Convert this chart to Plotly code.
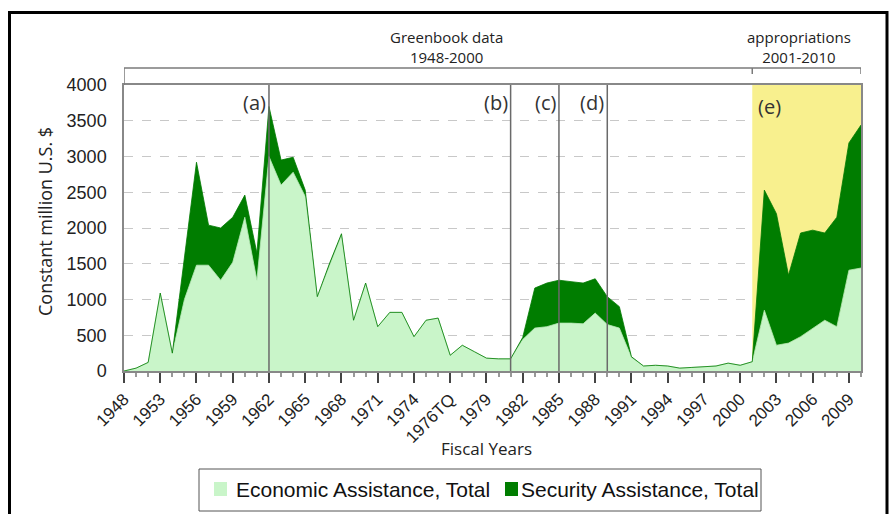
import plotly.graph_objects as go

# ---------------- data ----------------
categories = (["1948", "1951", "1952"]
              + [str(y) for y in range(1953, 1977)]
              + ["1976TQ"]
              + [str(y) for y in range(1977, 2011)])

economic = [0, 40, 120, 1090, 250, 1000, 1480, 1480, 1270, 1520,
            2150, 1270, 3000, 2600, 2780, 2440, 1040, 1480, 1900, 710,
            1230, 620, 820, 820, 480, 710, 740, 220, 360, 270,
            180, 170, 170, 440, 600, 620, 670, 670, 660, 810,
            650, 600, 190, 70, 80, 70, 40, 50, 60, 70,
            110, 80, 130, 850, 360, 390, 480, 600, 710, 620,
            1410, 1440]

security = [0, 0, 0, 0, 0, 600, 1440, 560, 730, 630,
            310, 380, 700, 350, 210, 90, 0, 20, 20, 0,
            0, 0, 0, 0, 0, 0, 0, 0, 0, 0,
            0, 0, 0, 30, 560, 610, 600, 580, 570, 480,
            390, 300, 10, 0, 0, 0, 0, 0, 0, 0,
            0, 0, 0, 1680, 1840, 950, 1450, 1370, 1220, 1530,
            1780, 2000]

series_names = ["Economic Assistance, Total", "Security Assistance, Total"]
series_colors = ["#c9f5c9", "#007d00"]

tick_labels = ["1948", "1953", "1956", "1959", "1962", "1965", "1968", "1971",
               "1974", "1976TQ", "1979", "1982", "1985", "1988", "1991", "1994",
               "1997", "2000", "2003", "2006", "2009"]

event_lines = {"(a)": "1962", "(b)": "1981", "(c)": "1985", "(d)": "1989"}
approp_start, approp_end = "2001", "2010"
period_labels = [("Greenbook data<br>1948-2000", 446), ("appropriations<br>2001-2010", 799)]

y_ticks = [0, 500, 1000, 1500, 2000, 2500, 3000, 3500, 4000]

# ---------------- helpers (pixel -> paper) ----------------
L, R, T, B = 124, 861, 85, 371
def px(x):
    return (x - L) / (R - L)
def py(y):
    return (B - y) / (B - T)

# ---------------- figure ----------------
xpos = list(range(len(categories)))
idx = {c: i for i, c in enumerate(categories)}

fig = go.Figure()
fig.add_trace(go.Scatter(
    x=xpos, y=economic, name=series_names[0],
    stackgroup="one", mode="lines",
    line=dict(color="#b5e8b5", width=0.8), fillcolor=series_colors[0]))
fig.add_trace(go.Scatter(
    x=xpos, y=security, name=series_names[1],
    stackgroup="one", mode="lines",
    line=dict(color="#007a00", width=0.8), fillcolor=series_colors[1]))

shapes = []
shapes.append(dict(type="rect", xref="x", yref="y",
                   x0=idx[approp_start], x1=idx[approp_end], y0=0, y1=4000,
                   fillcolor="#f8f08e", line=dict(width=0), layer="between"))
for lab, yr in event_lines.items():
    shapes.append(dict(type="line", xref="x", yref="y",
                       x0=idx[yr], x1=idx[yr], y0=0, y1=4000,
                       line=dict(color="#6a6a6a", width=1.5), layer="above"))
# top bracket
by = py(68)
bc = dict(color="#7a7a7a", width=1.5)
shapes.append(dict(type="line", xref="x", yref="paper", x0=0, x1=idx[approp_end],
                   y0=by, y1=by, line=bc))
shapes.append(dict(type="line", xref="x", yref="paper", x0=0, x1=0,
                   y0=by, y1=1.0, line=bc))
for xv in (idx[approp_start], idx[approp_end]):
    shapes.append(dict(type="line", xref="x", yref="paper", x0=xv, x1=xv,
                       y0=by, y1=py(74), line=bc))
# outer black frame
shapes.append(dict(type="rect", xref="paper", yref="paper",
                   x0=px(9.5), x1=px(887), y0=py(525), y1=py(12.5),
                   line=dict(color="black", width=3), fillcolor="rgba(0,0,0,0)"))
# manual legend
shapes.append(dict(type="rect", xref="paper", yref="paper",
                   x0=px(199), x1=px(761), y0=py(511), y1=py(469),
                   line=dict(color="#555", width=1), fillcolor="white"))
legend_swatch_x = [214, 505]
legend_text_x = [234, 519]
for sx, col in zip(legend_swatch_x, series_colors):
    shapes.append(dict(type="rect", xref="paper", yref="paper",
                       x0=px(sx), x1=px(sx + 13), y0=py(496), y1=py(482),
                       line=dict(width=0), fillcolor=col))

annotations = []
lab_font = dict(family="Open Sans", size=20, color="#333")
for lab, yr in event_lines.items():
    annotations.append(dict(text=lab, xref="x", yref="paper", x=idx[yr], y=py(102),
                            xanchor="right", yanchor="middle", xshift=-1,
                            showarrow=False, font=lab_font))
annotations.append(dict(text="(e)", xref="x", yref="paper", x=idx[approp_start], y=py(106),
                        xanchor="left", yanchor="middle", xshift=4,
                        showarrow=False, font=lab_font))
top_font = dict(family="Open Sans", size=15, color="#222")
for txt, cx in period_labels:
    annotations.append(dict(text=txt, xref="paper", yref="paper", x=px(cx), y=py(47),
                            xanchor="center", yanchor="middle", showarrow=False,
                            font=top_font))
annotations.append(dict(text="Fiscal Years", xref="paper", yref="paper",
                        x=px(486), y=py(448), xanchor="center", yanchor="middle",
                        showarrow=False, font=dict(family="Open Sans", size=17, color="#222")))
annotations.append(dict(text="Constant million U.S. $", xref="paper", yref="paper",
                        x=px(45), y=py(222), xanchor="center", yanchor="middle",
                        textangle=-90, showarrow=False,
                        font=dict(family="Open Sans", size=18, color="#222")))
for tx, name in zip(legend_text_x, series_names):
    annotations.append(dict(text=name, xref="paper", yref="paper", x=px(tx), y=py(489),
                            xanchor="left", yanchor="middle", showarrow=False,
                            font=dict(family="Liberation Sans", size=21, color="#111")))

fig.update_layout(
    width=890, height=514,
    margin=dict(l=L, r=890 - R, t=T, b=514 - B),
    paper_bgcolor="white", plot_bgcolor="white",
    showlegend=False,
    shapes=shapes, annotations=annotations,
    xaxis=dict(range=[0, len(categories) - 1],
               tickmode="array", tickvals=[idx[t] for t in tick_labels], ticktext=tick_labels,
               tickangle=-45, ticks="outside", ticklen=10, tickwidth=1.5, tickcolor="#444",
               minor=dict(dtick=1, ticks="outside", ticklen=4, tickcolor="#999", showgrid=False),
               showline=True, linecolor="#888", linewidth=1.5, mirror=True,
               showgrid=False, zeroline=False,
               tickfont=dict(family="Liberation Sans", size=17, color="#222")),
    yaxis=dict(range=[0, 4000], tickvals=y_ticks,
               showline=True, linecolor="#888", linewidth=1.5, mirror=True,
               showgrid=True, gridcolor="#c8c8c8", griddash="dash", gridwidth=1,
               zeroline=False, ticks="", ticklabelstandoff=12,
               tickfont=dict(family="Liberation Sans", size=18, color="#222")),
)

fig.write_html("out.html")
